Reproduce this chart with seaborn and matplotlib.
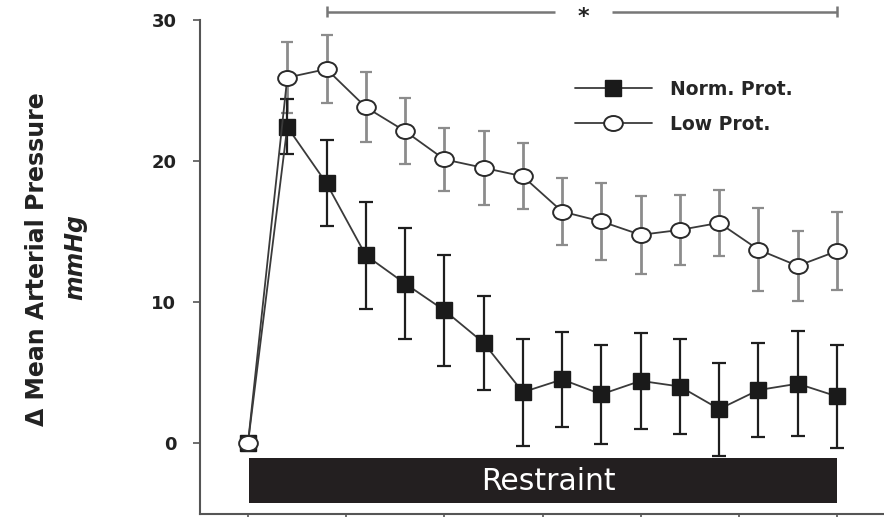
import numpy as np
import pandas as pd
import matplotlib
matplotlib.use("Agg")
import matplotlib.pyplot as plt
from matplotlib.path import Path
from matplotlib.patches import Rectangle
import seaborn as sns

# Time after onset (min) and change in mean arterial pressure (mean ± SEM, mmHg)
minutes = [0, 2, 4, 6, 8, 10, 12, 14, 16, 18, 20, 22, 24, 26, 28, 30]
norm_mean = [0, 22.4, 18.4, 13.3, 11.3, 9.4, 7.1, 3.6, 4.5, 3.45, 4.4, 4.0, 2.4, 3.75, 4.2, 3.3]
norm_sem = [0, 1.95, 3.05, 3.8, 3.95, 3.95, 3.35, 3.8, 3.35, 3.5, 3.4, 3.4, 3.3, 3.35, 3.7, 3.65]
low_mean = [0, 25.9, 26.5, 23.8, 22.1, 20.1, 19.5, 18.9, 16.4, 15.7, 14.75, 15.1, 15.6, 13.7, 12.55, 13.6]
low_sem = [0, 2.5, 2.4, 2.5, 2.35, 2.25, 2.6, 2.35, 2.35, 2.75, 2.75, 2.5, 2.35, 2.95, 2.5, 2.75]
group_labels = ["Norm. Prot.", "Low Prot."]
y_ticks = [0, 10, 20, 30]
x_ticks = [0, 5, 10, 15, 20, 25, 30]

sns.set_style("ticks")
plt.rcParams["font.family"] = ["DejaVu Sans"]

df = pd.DataFrame({
    "minutes": minutes * 2,
    "mean": norm_mean + low_mean,
    "sem": norm_sem + low_sem,
    "group": [group_labels[0]] * len(minutes) + [group_labels[1]] * len(minutes),
})
norm_df = df[df["group"] == group_labels[0]]
low_df = df[df["group"] == group_labels[1]]

W, H = 884, 517
fig = plt.figure(figsize=(W / 100, H / 100), dpi=100)
x0_px, x30_px = 248, 837
ppu = (x30_px - x0_px) / 30.0
left_px, right_px = 200, 884
ax = fig.add_axes([left_px / W, (H - 513.5) / H, (right_px - left_px) / W, (513.5 - 19.7) / H])
ax.set_xlim((left_px - x0_px) / ppu, (right_px - x0_px) / ppu)
ax.set_ylim(-5, 30)

# error bars: low-protein in grey under the normal-protein bars
eb_low = ax.errorbar(low_df["minutes"], low_df["mean"], yerr=low_df["sem"], fmt="none",
                     ecolor="#8c8c8c", elinewidth=2.0, capsize=4.5, capthick=1.6,
                     zorder=2, label="_nolegend_")
for cap in eb_low[1]:
    cap.set_color("#3a3a3a")
ax.errorbar(norm_df["minutes"], norm_df["mean"], yerr=norm_df["sem"], fmt="none",
            ecolor="#1e1e1e", elinewidth=1.6, capsize=5, capthick=1.6,
            zorder=3, label="_nolegend_")

# slightly flattened open circle
circ = Path.unit_circle()
ellipse = Path(circ.vertices * np.array([1.0, 0.8]), circ.codes)

sns.lineplot(data=norm_df, x="minutes", y="mean", ax=ax, color="#3a3a3a", lw=1.3,
             marker="s", markersize=11.5, markerfacecolor="#1a1a1a",
             markeredgecolor="#1a1a1a", markeredgewidth=1.0, errorbar=None,
             label=group_labels[0], zorder=4)
sns.lineplot(data=low_df, x="minutes", y="mean", ax=ax, color="#3a3a3a", lw=1.3,
             marker=ellipse, markersize=13.5, markerfacecolor="white",
             markeredgecolor="#2a2a2a", markeredgewidth=1.4, errorbar=None,
             label=group_labels[1], zorder=5)

# restraint period bar
ax.add_patch(Rectangle((minutes[0] + 0.05, -4.26), minutes[-1] - 0.05, 3.2,
                       facecolor="#231f20", edgecolor="none", zorder=1))
ax.text(15.3, -2.72, "Restraint", color="white", fontsize=21.5,
        ha="center", va="center", zorder=6)

# significance bracket
yb = 30.57
kw = dict(color="#777777", lw=1.8, clip_on=False, solid_capstyle="butt")
ax.plot([minutes[2], 15.66], [yb, yb], **kw)
ax.plot([18.54, minutes[-1]], [yb, yb], **kw)
for xe in (minutes[2], minutes[-1]):
    ax.plot([xe, xe], [yb - 0.4, yb + 0.4], **kw)
ax.text(17.1, yb - 0.4, "*", fontsize=16, fontweight="bold", ha="center",
        va="center", color="#222222", clip_on=False)

# axes styling
for side in ("top", "right"):
    ax.spines[side].set_visible(False)
for side in ("left", "bottom"):
    ax.spines[side].set_color("#555555")
    ax.spines[side].set_linewidth(1.5)
ax.set_yticks(y_ticks)
ax.set_yticklabels([str(t) for t in y_ticks], fontsize=13, fontweight="bold", color="#222222")
ax.set_xticks(x_ticks)
ax.set_xticklabels([])
ax.tick_params(axis="y", direction="out", length=5, width=1.2, color="#555555", pad=12)
ax.tick_params(axis="x", direction="out", length=4, width=1.2, color="#555555")
ax.set_xlabel("")
ax.set_ylabel("")

fig.text(37 / W, 1 - 259 / H, "\u0394 Mean Arterial Pressure", rotation=90, ha="center",
         va="center", fontsize=17, fontweight="bold", color="#222222")
fig.text(75 / W, 1 - 257 / H, "mmHg", rotation=90, ha="center", va="center",
         fontsize=17, fontweight="bold", fontstyle="italic", color="#222222")

handles, labels = ax.get_legend_handles_labels()
ax.legend(handles, labels, loc="upper left", bbox_to_anchor=(575 / W, 1 - 80 / H),
          bbox_transform=fig.transFigure, frameon=False, borderpad=0, borderaxespad=0,
          handlelength=4.1, handletextpad=0.96, labelspacing=0.85,
          prop={"size": 13.5, "weight": "bold"})

fig.savefig("out.png", dpi=100)
